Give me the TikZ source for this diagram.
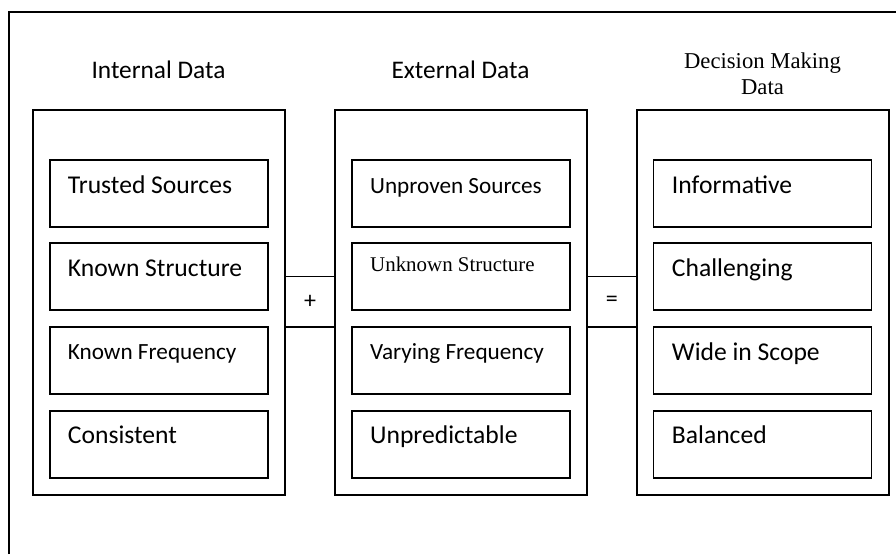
\documentclass[tikz,border=0pt]{standalone}
\usepackage{fontspec}
\setmainfont{Carlito}
\newfontfamily\tnr{Liberation Serif}
\usetikzlibrary{calc}
\tikzset{
  line/.style={line width=1.2pt},
  bigbox/.style={draw, line width=1.2pt, minimum width=189pt, minimum height=288.75pt, inner sep=0pt},
  itembox/.style={draw, line width=1.2pt, minimum width=163.5pt, minimum height=50.25pt, inner sep=0pt},
  opbox/.style={draw, line width=1.2pt, minimum width=37.5pt, minimum height=38pt, inner sep=0pt, font=\fontsize{18}{21}\selectfont},
  itemtext/.style={anchor=base west, inner sep=0pt, font=\fontsize{19.2}{23}\selectfont},
  smalltext/.style={anchor=base west, inner sep=0pt, font=\fontsize{17.4}{21}\selectfont},
  serifitem/.style={anchor=base west, inner sep=0pt, font=\tnr\fontsize{15.7}{19}\selectfont},
  title/.style={anchor=base, inner sep=0pt, font=\fontsize{19}{23}\selectfont},
}
\begin{document}
\begin{tikzpicture}[x=0.75pt, y=-0.75pt]
\useasboundingbox (0,0) rectangle (896,554);
% outer frame (cropped)
\draw[line] (9,554) -- (9,12) -- (896,12);

% titles
\node[title] (tL) at (158.5,78.3) {Internal Data};
\node[title] (tM) at (460.5,78.3) {External Data};
\node[anchor=base, inner sep=0pt, font=\tnr\fontsize{17}{19.5}\selectfont] (tR) at (762.5,68.3) {Decision Making};
\node[anchor=base, inner sep=0pt, font=\tnr\fontsize{17}{19.5}\selectfont] (tR2) at (762.5,94.3) {Data};

% big boxes
\node[bigbox] (L) at (159,302.5) {};
\node[bigbox] (M) at (461,302.5) {};
\node[bigbox] (R) at (763,302.5) {};

% operator boxes
\node[opbox] (plus) at (310,301.7) {+};
\node[opbox] (eq) at (611.8,301.7) {=};

% inner boxes, left
\node[itembox] (L1) at (159,193.5) {};
\node[itembox] (L2) at (159,276.7) {};
\node[itembox] (L3) at (159,360.3) {};
\node[itembox] (L4) at (159,444.2) {};
% middle
\node[itembox] (M1) at (460.7,193.5) {};
\node[itembox] (M2) at (460.7,276.7) {};
\node[itembox] (M3) at (460.7,360.3) {};
\node[itembox] (M4) at (460.7,444.2) {};
% right
\node[itembox] (R1) at (762.5,193.5) {};
\node[itembox] (R2) at (762.5,276.7) {};
\node[itembox] (R3) at (762.5,360.3) {};
\node[itembox] (R4) at (762.5,444.2) {};

% texts
\node[itemtext] (L1t) at ($(L1.north west)+(18.5,34)$) {Trusted Sources};
\node[itemtext] (L2t) at ($(L2.north west)+(18.5,34)$) {Known Structure};
\node[smalltext] (L3t) at ($(L3.north west)+(18.5,33.5)$) {Known Frequency};
\node[itemtext] (L4t) at ($(L4.north west)+(18.5,34)$) {Consistent};

\node[smalltext] (M1t) at ($(M1.north west)+(19,34)$) {Unproven Sources};
\node[serifitem] (M2t) at ($(M2.north west)+(19,29.5)$) {Unknown Structure};
\node[smalltext] (M3t) at ($(M3.north west)+(19,33.5)$) {Varying Frequency};
\node[itemtext] (M4t) at ($(M4.north west)+(19,34)$) {Unpredictable};

\node[itemtext] (R1t) at ($(R1.north west)+(19,34)$) {Informative};
\node[itemtext] (R2t) at ($(R2.north west)+(19,34)$) {Challenging};
\node[itemtext] (R3t) at ($(R3.north west)+(19,34)$) {Wide in Scope};
\node[itemtext] (R4t) at ($(R4.north west)+(19,34)$) {Balanced};
\end{tikzpicture}
\end{document}
